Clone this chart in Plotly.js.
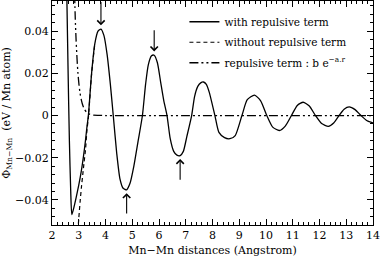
<!DOCTYPE html>
<html>
<head>
<meta charset="utf-8">
<script src="https://cdn.plot.ly/plotly-3.0.1.min.js"></script>
<style>html,body{margin:0;padding:0;background:#fff}#chart{width:382px;height:260px}</style>
</head>
<body>
<div id="chart"></div>
<script>
// Mn-Mn pair potential (eV / Mn atom) vs distance (Angstrom)
const withX = [2.55,2.60,2.65,2.70,2.74,2.80,2.90,3.00,3.10,3.18,3.25,3.31,3.36,3.48,3.60,3.72,3.83,3.94,4.06,4.18,4.29,4.42,4.54,4.66,4.79,4.92,5.06,5.22,5.38,5.50,5.60,5.72,5.82,5.94,6.06,6.18,6.30,6.42,6.55,6.67,6.79,6.91,7.04,7.22,7.33,7.45,7.56,7.66,7.77,7.88,8.09,8.24,8.45,8.65,8.85,9.10,9.30,9.57,9.80,10.03,10.25,10.50,10.72,10.95,11.17,11.39,11.62,11.85,12.08,12.33,12.53,12.73,12.92,13.11,13.33,13.55,13.78,14.00];
const withY = [0.060,0.022,-0.012,-0.036,-0.047,-0.0445,-0.039,-0.033,-0.026,-0.019,-0.012,-0.005,0.000,0.020,0.034,0.040,0.041,0.038,0.029,0.015,0.000,-0.018,-0.030,-0.0345,-0.0352,-0.032,-0.024,-0.012,0.000,0.015,0.024,0.0283,0.0286,0.025,0.016,0.007,0.000,-0.011,-0.017,-0.0188,-0.019,-0.017,-0.010,0.000,0.009,0.0138,0.0155,0.0159,0.0148,0.011,0.000,-0.008,-0.0105,-0.011,-0.0095,0.000,0.0075,0.0097,0.007,0.000,-0.0055,-0.0071,-0.005,0.000,0.0048,0.0063,0.0045,0.000,-0.0038,-0.0051,-0.0035,0.000,0.003,0.0041,0.0028,0.000,-0.0025,-0.0035];

const withoutX = [2.95,3.00,3.05,3.10,3.15,3.20,3.25,3.31,3.36,3.48,3.60];
const withoutY = [-0.058,-0.049,-0.041,-0.034,-0.028,-0.022,-0.0165,-0.0065,-0.001,0.0197,0.034];

const repX = [2.84,2.87,2.90,2.94,2.97,3.01,3.05,3.10,3.16,3.22,3.30,3.40,3.55,3.75,4.00,14.00];
const repY = [0.060,0.046,0.036,0.026,0.020,0.0145,0.0105,0.0072,0.0045,0.0028,0.0015,0.0007,0.0002,0.0001,0.0,0.0];

const seriesNames = ["with repulsive term","without repulsive term","repulsive term : b e<sup>\u2212a.r</sup>"];

// arrows marking extrema: [x, tip y, tail y]
const arrows = [[3.83,0.0428,0.0545],[5.82,0.0304,0.0412],[4.79,-0.0368,-0.0472],[6.79,-0.0206,-0.0312]];

const font = {family:"DejaVu Serif", size:11, color:"#000"};
const legFont = {family:"DejaVu Serif", size:10.5, color:"#000"};

const traces = [
  {x:withX, y:withY, name:seriesNames[0], legendgroup:"a", mode:"lines", line:{color:"#000", width:1.3, shape:"spline", smoothing:0.6}},
  {x:withoutX, y:withoutY, name:seriesNames[1], legendgroup:"b", mode:"lines", line:{color:"#000", width:1.2, dash:"4px,3px", shape:"spline", smoothing:0.6}},
  {x:repX, y:repY, name:seriesNames[2], legendgroup:"c", mode:"lines", line:{color:"#000", width:1.3, dash:"9px,3px,2px,3px,2px,3px", shape:"spline", smoothing:0.6}}
];

const ann = arrows.map(a => ({x:a[0], y:a[1], ax:a[0], ay:a[2], xref:"x", yref:"y", axref:"x", ayref:"y",
  showarrow:true, arrowhead:4, arrowsize:1.3, arrowwidth:1.1, arrowcolor:"#000", text:""}));

const axisCommon = {showline:true, mirror:"allticks", linecolor:"#000", linewidth:1, ticks:"inside", ticklen:6, tickwidth:1, tickcolor:"#000",
  showgrid:false, zeroline:false, tickfont:font};

const layout = {
  width:382, height:260,
  margin:{l:52, r:9, t:1, b:35},
  paper_bgcolor:"#fff", plot_bgcolor:"#fff",
  font:font,
  showlegend:true,
  legend:{x:0.4125, y:0.972, xanchor:"left", yanchor:"top", bgcolor:"rgba(0,0,0,0)", borderwidth:0, font:legFont, tracegroupgap:1.5},
  xaxis:Object.assign({}, axisCommon, {range:[2,14], dtick:1, tick0:0,
    minor:{dtick:0.2, ticks:"inside", ticklen:3, tickcolor:"#000", showgrid:false},
    title:{text:"Mn\u2212Mn distances (Angstrom)", font:font, standoff:5}}),
  yaxis:Object.assign({}, axisCommon, {range:[-0.0519,0.0543], dtick:0.02, tick0:0,
    minor:{dtick:0.004, ticks:"inside", ticklen:3, tickcolor:"#000", showgrid:false},
    title:{text:"\u03A6<sub>Mn\u2212Mn</sub>  (eV / Mn atom)", font:font, standoff:5}}),
  annotations:ann
};

Plotly.newPlot("chart", traces, layout, {displayModeBar:false, staticPlot:true});
</script>
</body>
</html>
